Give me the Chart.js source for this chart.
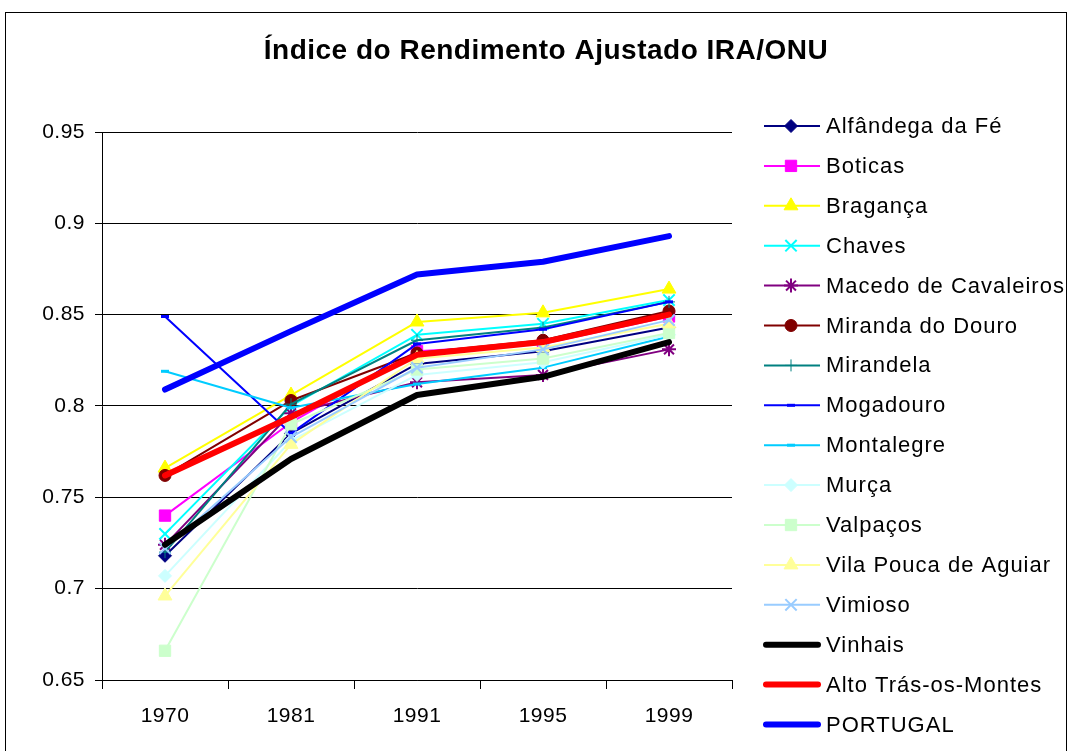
<!DOCTYPE html>
<html>
<head>
<meta charset="utf-8">
<script src="https://cdn.jsdelivr.net/npm/chart.js@4"></script>
<style>
  html, body { margin: 0; padding: 0; background: #fff; }
  #wrap { width: 1070px; height: 751px; }
</style>
</head>
<body>
<div id="wrap"><canvas id="IraChartCanvas" width="1070" height="751"></canvas></div>
<script>
const years = ['1970', '1981', '1991', '1995', '1999'];
const yTicks = [0.65, 0.7, 0.75, 0.8, 0.85, 0.9, 0.95];

const seriesNames = [
  'Alfândega da Fé', 'Boticas', 'Bragança', 'Chaves', 'Macedo de Cavaleiros',
  'Miranda do Douro', 'Mirandela', 'Mogadouro', 'Montalegre', 'Murça',
  'Valpaços', 'Vila Pouca de Aguiar', 'Vimioso', 'Vinhais',
  'Alto Trás-os-Montes', 'PORTUGAL',
];

const alfandega = [0.718, 0.785, 0.823, 0.830, 0.843];
const boticas = [0.740, 0.791, 0.830, 0.834, 0.849];
const braganca = [0.766, 0.806, 0.846, 0.851, 0.864];
const chaves = [0.730, 0.800, 0.839, 0.845, 0.858];
const macedo = [0.724, 0.796, 0.813, 0.817, 0.831];
const miranda = [0.762, 0.803, 0.829, 0.836, 0.852];
const mirandela = [0.720, 0.801, 0.836, 0.843, 0.857];
const mogadouro = [0.849, 0.785, 0.834, 0.842, 0.857];
const montalegre = [0.819, 0.799, 0.812, 0.821, 0.838];
const murca = [0.707, 0.781, 0.817, 0.824, 0.839];
const valpacos = [0.666, 0.790, 0.820, 0.826, 0.840];
const vilaPouca = [0.696, 0.779, 0.826, 0.832, 0.845];
const vimioso = [0.722, 0.783, 0.821, 0.831, 0.847];
const vinhais = [0.724, 0.771, 0.806, 0.816, 0.835];
const altoTras = [0.762, 0.794, 0.828, 0.835, 0.850];
const portugal = [0.809, 0.841, 0.872, 0.879, 0.893];

const seriesValues = [
  alfandega, boticas, braganca, chaves, macedo, miranda, mirandela, mogadouro,
  montalegre, murca, valpacos, vilaPouca, vimioso, vinhais, altoTras, portugal,
];

/* excel style per series: colour, marker, thick line */
const seriesStyles = [
  { color: '#000080', marker: 'rectRot' },
  { color: '#FF00FF', marker: 'rect' },
  { color: '#FFFF00', marker: 'triangle' },
  { color: '#00FFFF', marker: 'crossRot' },
  { color: '#800080', marker: 'star' },
  { color: '#800000', marker: 'circle' },
  { color: '#008080', marker: 'cross' },
  { color: '#0000FF', marker: 'line' },
  { color: '#00CCFF', marker: 'line' },
  { color: '#CCFFFF', marker: 'rectRot' },
  { color: '#CCFFCC', marker: 'rect' },
  { color: '#FFFF99', marker: 'triangle' },
  { color: '#99CCFF', marker: 'crossRot' },
  { color: '#000000', marker: false },
  { color: '#FF0000', marker: false },
  { color: '#0000FF', marker: false },
];

const FONT = "'Liberation Sans', Arial, sans-serif";

const markerSizes = {
  rectRot: 6.5, rect: 8, triangle: 8, crossRot: 8, star: 7, circle: 6, cross: 6, line: 4,
};
const markerRadius = (marker) => markerSizes[marker] || 6;
const markerBorder = (marker) => (marker === 'line' ? 3 : marker === 'crossRot' || marker === 'star' ? 2 : 1);

const dataSets = seriesValues.map((values, index) => {
  const { color, marker } = seriesStyles[index];
  return {
    label: seriesNames[index],
    data: values,
    borderColor: color,
    backgroundColor: color,
    borderWidth: marker ? 2 : 6,
    borderCapStyle: 'round',
    borderJoinStyle: 'round',
    pointStyle: marker || 'circle',
    pointRadius: marker ? markerRadius(marker) : 0,
    pointHoverRadius: marker ? markerRadius(marker) : 0,
    pointBorderWidth: marker ? markerBorder(marker) : 0,
    tension: 0,
    /* later series on top, like the spreadsheet */
    order: seriesValues.length - index,
  };
});

/**
 * Draws the outer frame, the title and the right hand legend
 */
const framePlugin = {
  id: 'framePlugin',
  beforeDraw(chart) {
    const { ctx } = chart;
    ctx.save();
    ctx.fillStyle = '#fff';
    ctx.fillRect(0, 0, chart.width, chart.height);
    ctx.restore();
    /* spreadsheet text is a bit spread out, keep it for the tick labels too */
    ctx.letterSpacing = '0.5px';
  },
  afterDraw(chart) {
    const { ctx } = chart;
    ctx.save();

    ctx.strokeStyle = '#000';
    ctx.lineWidth = 1;
    ctx.strokeRect(5.5, 12.5, 1061, 760);

    ctx.fillStyle = '#000';
    ctx.font = `bold 28px ${FONT}`;
    ctx.letterSpacing = '0.5px';
    ctx.textAlign = 'center';
    ctx.textBaseline = 'middle';
    ctx.fillText('Índice do Rendimento Ajustado IRA/ONU', 546, 51);

    ctx.font = `22px ${FONT}`;
    ctx.letterSpacing = '1px';
    ctx.textAlign = 'left';
    chart.data.datasets.forEach((ds, index) => {
      const y = 126 + index * 39.9;
      const { marker } = seriesStyles[index];
      ctx.strokeStyle = ds.borderColor;
      ctx.lineWidth = ds.borderWidth;
      ctx.lineCap = marker ? 'butt' : 'round';
      ctx.beginPath();
      ctx.moveTo(marker ? 764 : 766, y);
      ctx.lineTo(marker ? 820 : 818, y);
      ctx.stroke();
      if (marker) {
        ctx.fillStyle = ds.borderColor;
        ctx.lineWidth = markerBorder(marker);
        Chart.helpers.drawPoint(ctx, {
          pointStyle: marker,
          radius: markerRadius(marker),
          borderWidth: markerBorder(marker),
          rotation: 0,
        }, 791, y);
      }
      ctx.fillStyle = '#000';
      ctx.fillText(ds.label, 826, y + 1);
    });

    ctx.restore();
  },
};

const options = {
  type: 'line',
  data: {
    labels: years,
    datasets: dataSets,
  },
  options: {
    responsive: false,
    animation: false,
    layout: {
      padding: { left: 0, right: 338, top: 132, bottom: 0 },
    },
    plugins: {
      legend: { display: false },
      title: { display: false },
      tooltip: { enabled: false },
    },
    scales: {
      x: {
        type: 'category',
        offset: true,
        afterFit(scale) {
          scale.height = 71;
        },
        grid: {
          display: true,
          offset: true,
          drawOnChartArea: false,
          drawTicks: true,
          tickLength: 9,
          color: '#000',
        },
        border: { display: true, color: '#000', width: 1 },
        ticks: {
          color: '#000',
          font: { family: FONT, size: 21 },
          padding: 15,
          maxRotation: 0,
        },
      },
      y: {
        min: yTicks[0],
        max: yTicks[yTicks.length - 1],
        afterFit(scale) {
          scale.width = 102;
        },
        afterBuildTicks(scale) {
          scale.ticks = yTicks.map((value) => ({ value }));
        },
        grid: {
          color: '#000',
          lineWidth: 1,
          drawTicks: true,
          tickLength: 7,
        },
        border: { display: true, color: '#000', width: 1 },
        ticks: {
          color: '#000',
          font: { family: FONT, size: 21 },
          padding: 10,
          callback: (value) => String(Math.round(value * 100) / 100),
        },
      },
    },
  },
  plugins: [framePlugin],
};

const ctx = document.getElementById('IraChartCanvas').getContext('2d');
window.IraChartRef = new Chart(ctx, options);
</script>
</body>
</html>
